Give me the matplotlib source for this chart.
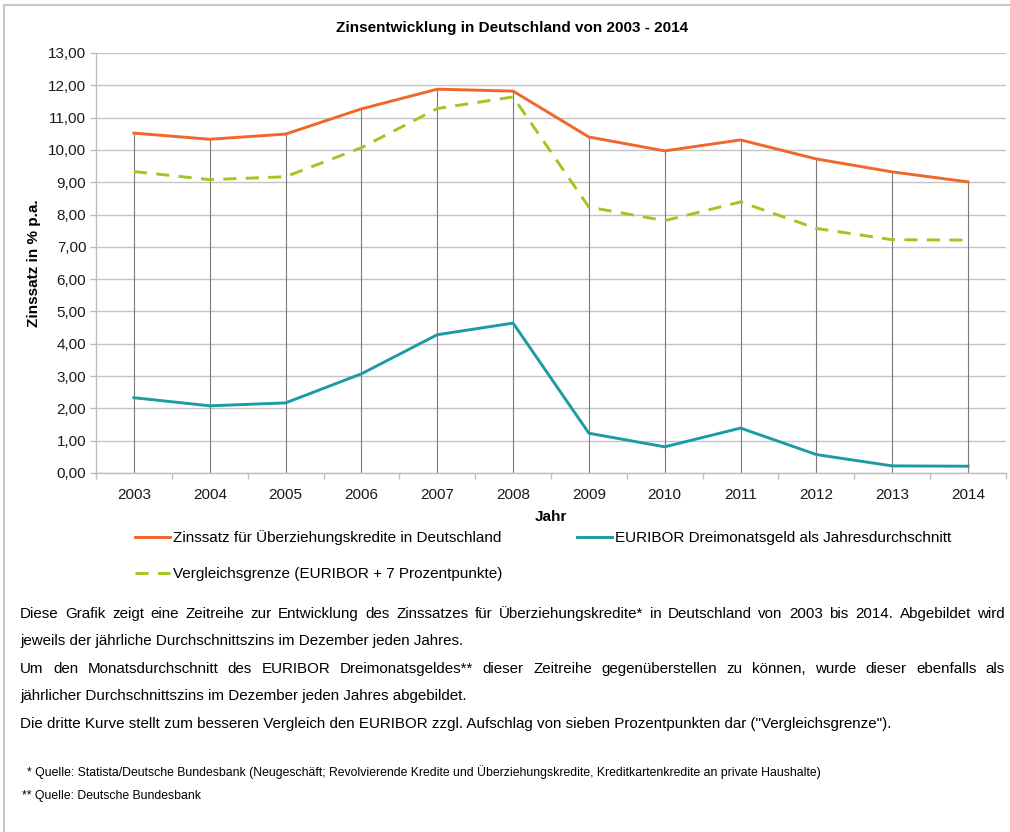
import matplotlib
matplotlib.use("Agg")
import matplotlib.pyplot as plt
from matplotlib.lines import Line2D
from matplotlib.ticker import FuncFormatter, FixedLocator

# ---------------- data ----------------
years = ["2003", "2004", "2005", "2006", "2007", "2008",
         "2009", "2010", "2011", "2012", "2013", "2014"]
dispo = [10.52, 10.33, 10.49, 11.27, 11.88, 11.82,
         10.40, 9.97, 10.31, 9.72, 9.32, 9.01]
euribor = [2.33, 2.08, 2.17, 3.07, 4.28, 4.64,
           1.23, 0.81, 1.39, 0.57, 0.22, 0.21]
grenze = [9.33, 9.08, 9.17, 10.07, 11.28, 11.64,
          8.23, 7.81, 8.39, 7.57, 7.22, 7.21]

label_dispo = "Zinssatz für Überziehungskredite in Deutschland"
label_euribor = "EURIBOR Dreimonatsgeld als Jahresdurchschnitt"
label_grenze = "Vergleichsgrenze (EURIBOR + 7 Prozentpunkte)"

title = "Zinsentwicklung in Deutschland von 2003 - 2014"
ylabel = "Zinssatz in % p.a."
xlabel = "Jahr"

body_lines = [
    ("Diese Grafik zeigt eine Zeitreihe zur Entwicklung des Zinssatzes für Überziehungskredite* "
     "in Deutschland von 2003 bis 2014. Abgebildet wird", True),
    ("jeweils der jährliche Durchschnittszins im Dezember jeden Jahres.", False),
    ("Um den Monatsdurchschnitt des EURIBOR Dreimonatsgeldes** dieser Zeitreihe gegenüberstellen "
     "zu können, wurde dieser ebenfalls als", True),
    ("jährlicher Durchschnittszins im Dezember jeden Jahres abgebildet.", False),
    ('Die dritte Kurve stellt zum besseren Vergleich den EURIBOR zzgl. Aufschlag von sieben '
     'Prozentpunkten dar ("Vergleichsgrenze").', False),
]
footnotes = [
    "* Quelle: Statista/Deutsche Bundesbank (Neugeschäft; Revolvierende Kredite und "
    "Überziehungskredite, Kreditkartenkredite an private Haushalte)",
    "** Quelle: Deutsche Bundesbank",
]

# ---------------- style ----------------
C_OR = "#F2662B"
C_TE = "#1C9BA3"
C_GR = "#9DC81E"
FONT = ["Liberation Sans", "DejaVu Sans"]
plt.rcParams["font.family"] = FONT

W, H = 1010, 832
fig = plt.figure(figsize=(W / 100, H / 100), dpi=100)

def fx(px):
    return px / W

def fy(py):
    return 1 - py / H

ax_l, ax_r, ax_t, ax_b = 96, 1006, 53, 473
ax = fig.add_axes([fx(ax_l), fy(ax_b), fx(ax_r - ax_l), (ax_b - ax_t) / H])

x = list(range(len(years)))
# drop lines (Excel style)
tops = [max(a, b, c) for a, b, c in zip(dispo, euribor, grenze)]
ax.vlines(x, 0, tops, colors="#7A7A7A", lw=0.8, zorder=2)

ax.plot(x, dispo, color=C_OR, lw=2.1, solid_joinstyle="round", zorder=4)
ax.plot(x, euribor, color=C_TE, lw=2.1, solid_joinstyle="round", zorder=4)
ax.plot(x, grenze, color=C_GR, lw=2.1, ls=(0, (4.5, 3.2)), zorder=3)

ax.set_xlim(-0.5, len(years) - 0.5)
ax.set_ylim(0, 13)
ax.yaxis.set_major_locator(FixedLocator(range(0, 14)))
ax.yaxis.set_major_formatter(FuncFormatter(lambda v, p: f"{v:.2f}".replace(".", ",")))
ax.set_xticks(x)
ax.set_xticklabels(years)
ax.set_xticks([i - 0.5 for i in range(len(years) + 1)], minor=True)
ax.tick_params(axis="x", which="major", length=0, pad=10.5, labelsize=11, colors="#1a1a1a")
ax.tick_params(axis="x", which="minor", length=4, width=1, color="#BEBEBE", direction="out")
ax.tick_params(axis="y", which="major", length=4, width=1, color="#BEBEBE", pad=3,
               labelsize=11, labelcolor="#1a1a1a")
ax.grid(axis="y", color="#C4C4C4", lw=1.0, zorder=1)
ax.set_axisbelow(True)
for s in ["top", "right"]:
    ax.spines[s].set_visible(False)
for s in ["left", "bottom"]:
    ax.spines[s].set_color("#BEBEBE")
    ax.spines[s].set_linewidth(1.0)

ax.set_ylabel(ylabel, fontsize=11, fontweight="bold", labelpad=5)
ax.set_xlabel(xlabel, fontsize=11, fontweight="bold", labelpad=6)

fig.text(fx(512), fy(28), title, ha="center", va="center", fontsize=11,
         fontweight="bold")

# legend
renderer = fig.canvas.get_renderer()
fs_leg = 11
em = fs_leg * 100 / 72
t1 = fig.text(0, 0, label_grenze, fontsize=fs_leg)
t2 = fig.text(0, 0, label_dispo, fontsize=fs_leg)
wmax = max(t1.get_window_extent(renderer).width, t2.get_window_extent(renderer).width)
t1.remove()
t2.remove()
handles = [Line2D([], [], color=C_OR, lw=2.1),
           Line2D([], [], color=C_GR, lw=2.1, ls=(0, (4.5, 3.2))),
           Line2D([], [], color=C_TE, lw=2.1)]
hl, htp = 35 / em, 3 / em
colsp = (577 - (135 + 35 + 3 + wmax)) / em
fig.legend(handles, [label_dispo, label_grenze, label_euribor], ncol=2,
           loc="upper left", bbox_to_anchor=(fx(135), fy(530)), frameon=False,
           fontsize=fs_leg, handlelength=hl, handletextpad=htp, columnspacing=colsp,
           labelspacing=1.45, borderpad=0, borderaxespad=0)

# body text
def put_line(text, yb, x0, x1, justify, fs):
    if not justify:
        fig.text(fx(x0), fy(yb), text, ha="left", va="baseline", fontsize=fs)
        return
    words = text.split(" ")
    objs = [fig.text(0, fy(yb), w, ha="left", va="baseline", fontsize=fs) for w in words]
    widths = [o.get_window_extent(renderer).width for o in objs]
    gap = (x1 - x0 - sum(widths)) / (len(words) - 1)
    cx = x0
    for o, wd in zip(objs, widths):
        o.set_x(fx(cx))
        cx += wd + gap

ys = [613, 640, 668, 695, 723]
for (t, j), yy in zip(body_lines, ys):
    put_line(t, yy + 5, 20, 1005, j, 10.9)

fig.text(fx(27), fy(776), footnotes[0], ha="left", va="baseline", fontsize=8.8)
fig.text(fx(22), fy(799), footnotes[1], ha="left", va="baseline", fontsize=8.8)

# frame lines
fig.add_artist(Line2D([fx(4), fx(1010)], [fy(5), fy(5)], color="#C8C8C8", lw=1.5))
fig.add_artist(Line2D([fx(4), fx(4)], [fy(5), fy(832)], color="#C8C8C8", lw=1.5))

fig.savefig("out.png", dpi=100)
